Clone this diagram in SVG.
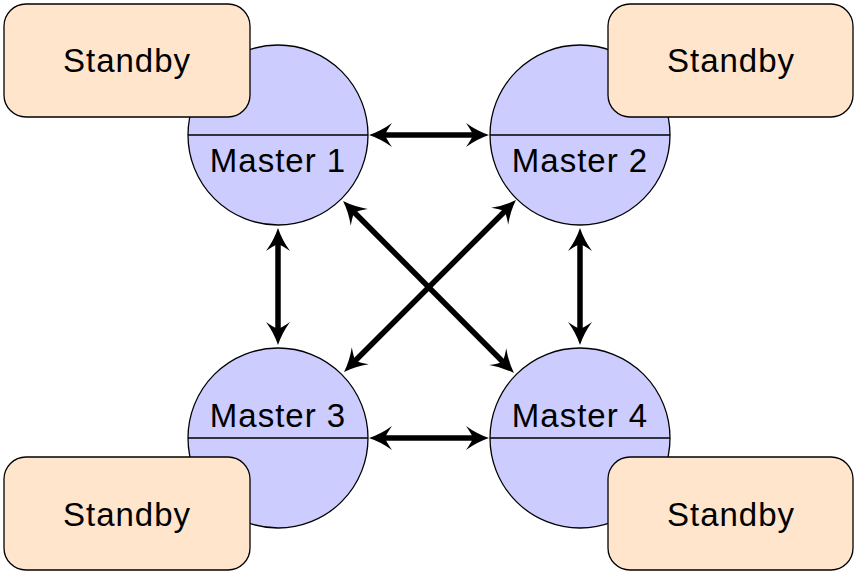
<svg xmlns="http://www.w3.org/2000/svg" width="855" height="572" viewBox="0 0 855 572">
<style>
.m{fill:#ccccff;stroke:#000;stroke-width:1.3}
.s{fill:#ffe5cc;stroke:#000;stroke-width:1.3}
.t{font-family:"Liberation Sans","DejaVu Sans",sans-serif;font-size:33px;letter-spacing:1px;text-anchor:middle;fill:#000}
.c{stroke:#000;stroke-width:5.5;fill:none;marker-start:url(#ah);marker-end:url(#ah)}
.d{stroke:#000;stroke-width:1.3}
</style>
<defs>
<marker id="ah" markerUnits="userSpaceOnUse" viewBox="-24 -13 26 26" refX="-8" refY="0" markerWidth="26" markerHeight="26" orient="auto-start-reverse">
<path d="M0,0 Q-12,-4 -23,-12 Q-18,-5 -16,0 Q-18,5 -23,12 Q-12,4 0,0 Z" fill="#000"/>
</marker>
</defs>
<g id="master1"><circle class="m" cx="278" cy="135" r="90"/><line class="d" x1="188" y1="135" x2="368" y2="135"/><text class="t" x="278" y="172">Master 1</text></g>
<g id="master2"><circle class="m" cx="580" cy="135" r="90"/><line class="d" x1="490" y1="135" x2="670" y2="135"/><text class="t" x="580" y="172">Master 2</text></g>
<g id="master3"><circle class="m" cx="278" cy="438" r="90"/><line class="d" x1="188" y1="438" x2="368" y2="438"/><text class="t" x="278" y="427">Master 3</text></g>
<g id="master4"><circle class="m" cx="580" cy="438" r="90"/><line class="d" x1="490" y1="438" x2="670" y2="438"/><text class="t" x="580" y="427">Master 4</text></g>
<g id="standby1"><rect class="s" x="4" y="4" width="246" height="113" rx="22"/><text class="t" x="127" y="72">Standby</text></g>
<g id="standby2"><rect class="s" x="608" y="4" width="245" height="113" rx="22"/><text class="t" x="731" y="72">Standby</text></g>
<g id="standby3"><rect class="s" x="4" y="457" width="246" height="113" rx="22"/><text class="t" x="127" y="526">Standby</text></g>
<g id="standby4"><rect class="s" x="608" y="457" width="245" height="113" rx="22"/><text class="t" x="731" y="526">Standby</text></g>
<g id="connectors">
<line class="c" x1="377" y1="135" x2="481" y2="135"/>
<line class="c" x1="377" y1="438" x2="481" y2="438"/>
<line class="c" x1="278" y1="236" x2="278" y2="337"/>
<line class="c" x1="580" y1="236" x2="580" y2="337"/>
<line class="c" x1="348.7" y1="206.7" x2="508.3" y2="367.3"/>
<line class="c" x1="510.3" y1="205.7" x2="349.7" y2="366.3"/>
</g>
</svg>
